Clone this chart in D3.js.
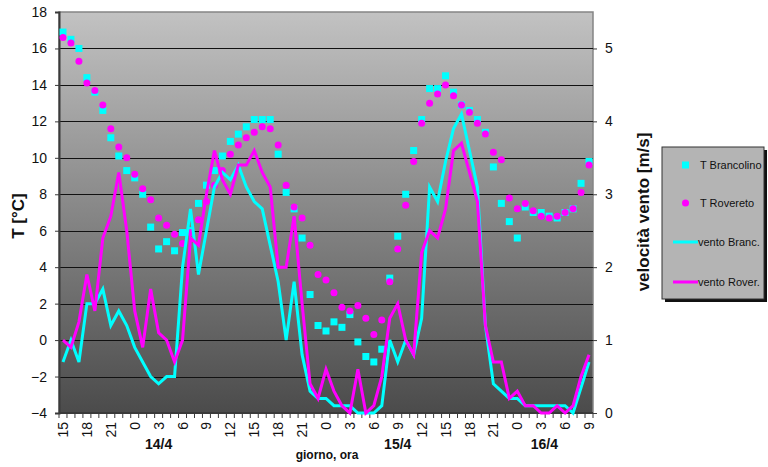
<!DOCTYPE html>
<html>
<meta charset="utf-8">
<style>
body { margin: 0; background: #fff; }
text { font-family: "Liberation Sans", Arial, sans-serif; fill: #111; }
</style>
<body>
<svg id="chart" width="768" height="467"></svg>
<script src="https://d3js.org/d3.v7.min.js"></script>
<script>

// hour of each reading (category axis)
var hours = [15,16,17,18,19,20,21,22,23,
    0,1,2,3,4,5,6,7,8,9,10,11,12,13,14,15,16,17,18,19,20,21,22,23,
    0,1,2,3,4,5,6,7,8,9,10,11,12,13,14,15,16,17,18,19,20,21,22,23,
    0,1,2,3,4,5,6,7,8,9];
var days = ["14/4", "15/4", "16/4"];
var dayAt = [12, 42, 60.4];   // category index under which the day label sits

var tBrancolino = [16.9,16.5,16.0,14.4,13.6,12.6,11.1,10.1,9.3,8.9,
    8.0,6.2,5.0,5.4,4.9,5.9,6.0,7.5,8.5,9.3,
    10.1,10.9,11.3,11.7,12.1,12.1,12.1,10.2,8.1,7.2,
    5.6,2.5,0.8,0.5,1.0,0.7,1.4,-0.1,-0.9,-1.2,
    -0.5,3.4,5.7,8.0,10.4,12.1,13.8,13.8,14.5,13.6,
    12.9,12.6,12.1,11.4,9.5,7.5,6.5,5.6,7.3,7.0,
    7.0,6.8,6.7,7.0,7.2,8.6,9.8];
var tRovereto = [16.6,16.3,15.3,14.1,13.7,12.9,11.6,10.6,10.0,9.1,
    8.3,7.7,6.7,6.3,5.8,5.3,5.9,6.6,7.6,8.5,
    9.3,10.2,10.7,11.1,11.4,11.7,11.6,10.7,8.5,7.3,
    6.7,5.2,3.6,3.3,2.6,1.8,1.6,1.9,1.2,0.3,
    1.1,3.2,5.0,7.4,9.8,11.9,13.0,13.5,14.0,13.4,
    12.9,12.5,11.9,11.3,10.3,9.9,7.8,7.2,7.5,7.1,
    6.8,6.7,6.8,7.0,7.2,8.1,9.6];
var ventoBranc = [0.7,1.0,0.7,1.5,1.5,1.7,1.2,1.4,1.2,0.9,
    0.7,0.5,0.4,0.5,0.5,2.0,2.8,1.9,2.5,3.1,
    3.3,3.2,3.4,3.1,2.9,2.8,2.3,1.8,1.0,1.8,
    0.8,0.3,0.2,0.2,0.1,0.1,0.1,0,0,0,
    0.1,1.0,0.7,1.0,0.8,1.3,3.1,2.9,3.45,3.9,
    4.1,3.6,3.1,1.2,0.4,0.3,0.2,0.2,0.1,0.1,
    0.1,0.1,0.1,0.1,0,0.35,0.7];
var ventoRover = [1.0,0.9,1.25,1.9,1.4,2.4,2.7,3.3,2.5,1.4,
    0.9,1.7,1.1,1.0,0.7,1.0,2.4,2.3,3.0,3.6,
    3.2,3.0,3.4,3.4,3.6,3.3,3.1,2.0,2.0,2.7,
    1.5,0.4,0.2,0.6,0.3,0.1,0,0.6,0,0.1,
    0.5,1.3,1.5,1.0,0.8,2.2,2.5,2.4,2.8,3.6,
    3.7,3.3,2.9,1.2,0.7,0.7,0.2,0.3,0.1,0.1,
    0,0,0.1,0,0.1,0.5,0.8];

var tTicks = [-4,-2,0,2,4,6,8,10,12,14,16,18];
var vTicks = [0,1,2,3,4,5];

var CYAN = "#00ffff", MAGENTA = "#ff00ff";

var svg = d3.select("#chart"),
    pLeft = 59, pRight = 593, pTop = 12, pBottom = 413;

var idx = d3.range(hours.length);
var x = d3.scaleBand().domain(idx).range([pLeft, pRight]).padding(0);
var cx = function(i) { return x(i) + x.bandwidth() / 2; };
var y = d3.scaleLinear().domain([-4, 18]).range([pBottom, pTop]);
var y2 = d3.scaleLinear().domain([0, 5.5]).range([pBottom, pTop]);

// background gradient of plot area
var grad = svg.append("defs").append("linearGradient")
    .attr("id", "bg").attr("x1", 0).attr("y1", 0).attr("x2", 0).attr("y2", 1);
grad.append("stop").attr("offset", "0%").attr("stop-color", "#c2c2c2");
grad.append("stop").attr("offset", "100%").attr("stop-color", "#4b4b4b");

svg.append("rect")
    .attr("x", pLeft).attr("y", pTop)
    .attr("width", pRight - pLeft).attr("height", pBottom - pTop)
    .attr("fill", "url(#bg)")
    .attr("stroke", "#858585").attr("stroke-width", 1.5);

// gridlines
svg.append("g").selectAll("line")
    .data(tTicks.filter(function(t) { return t > -4 && t < 18; }))
    .join("line")
    .attr("x1", pLeft).attr("x2", pRight)
    .attr("y1", function(d) { return Math.round(y(d)) + 0.5; })
    .attr("y2", function(d) { return Math.round(y(d)) + 0.5; })
    .attr("stroke", "#111").attr("stroke-width", 1.2);

// left axis
var yAxis = svg.append("g")
    .attr("transform", "translate(" + pLeft + ",0)")
    .call(d3.axisLeft(y).tickValues(tTicks).tickSize(4).tickPadding(8));
yAxis.select(".domain").attr("stroke", "#3a3a3a").attr("stroke-width", 2);
yAxis.selectAll(".tick line").attr("stroke", "#3a3a3a");
yAxis.selectAll("text").style("font-size", "14px")
    .style("font-family", "'Liberation Sans', Arial, sans-serif").attr("fill", "#111");

// right axis
var vAxis = svg.append("g")
    .attr("transform", "translate(" + pRight + ",0)")
    .call(d3.axisRight(y2).tickValues(vTicks).tickFormat(d3.format("d")).tickSize(4).tickPadding(8));
vAxis.select(".domain").remove();
vAxis.selectAll(".tick line").attr("stroke", "#3a3a3a");
vAxis.selectAll("text").style("font-size", "14px")
    .style("font-family", "'Liberation Sans', Arial, sans-serif").attr("fill", "#111");

// bottom axis: tick marks between categories
svg.append("line")
    .attr("x1", pLeft).attr("x2", pRight).attr("y1", pBottom).attr("y2", pBottom)
    .attr("stroke", "#3a3a3a").attr("stroke-width", 2);
svg.append("g").selectAll("line")
    .data(d3.range(hours.length + 1))
    .join("line")
    .attr("x1", function(i) { return i < hours.length ? x(i) : pRight; })
    .attr("x2", function(i) { return i < hours.length ? x(i) : pRight; })
    .attr("y1", pBottom).attr("y2", pBottom + 5)
    .attr("stroke", "#3a3a3a");

svg.append("g").selectAll("text")
    .data(idx.filter(function(i) { return i % 3 === 0; }))
    .join("text")
    .attr("transform", function(i) { return "translate(" + cx(i) + "," + (pBottom + 9) + ") rotate(-90)"; })
    .attr("text-anchor", "end")
    .attr("dy", "0.36em")
    .style("font-size", "14px")
    .text(function(i) { return hours[i]; });

svg.append("g").selectAll("text")
    .data(days)
    .join("text")
    .attr("x", function(d, k) { return cx(Math.floor(dayAt[k])) + (dayAt[k] % 1) * x.bandwidth(); })
    .attr("y", 449)
    .attr("text-anchor", "middle")
    .style("font-size", "14px").style("font-weight", "bold")
    .text(function(d) { return d; });

svg.append("text")
    .attr("x", 327).attr("y", 459)
    .attr("text-anchor", "middle")
    .style("font-size", "12px").style("font-weight", "bold")
    .text("giorno, ora");

// axis titles
svg.append("text")
    .attr("transform", "translate(24,216) rotate(-90)")
    .attr("text-anchor", "middle")
    .style("font-size", "17px").style("font-weight", "bold")
    .text("T [°C]");

svg.append("text")
    .attr("transform", "translate(649,212) rotate(-90)")
    .attr("text-anchor", "middle")
    .style("font-size", "17px").style("font-weight", "bold")
    .text("velocità vento [m/s]");

// series
var plot = svg.append("g");

plot.selectAll("rect.tb")
    .data(tBrancolino)
    .join("rect")
    .attr("class", "tb")
    .attr("x", function(d, i) { return cx(i) - 3.5; })
    .attr("y", function(d) { return y(d) - 3.5; })
    .attr("width", 7).attr("height", 7)
    .attr("fill", CYAN);

plot.selectAll("circle.tr")
    .data(tRovereto)
    .join("circle")
    .attr("class", "tr")
    .attr("cx", function(d, i) { return cx(i); })
    .attr("cy", function(d) { return y(d); })
    .attr("r", 3.5)
    .attr("fill", MAGENTA);

var windLine = d3.line()
    .x(function(d, i) { return cx(i); })
    .y(function(d) { return y2(d); });

plot.append("path")
    .datum(ventoBranc)
    .attr("d", windLine)
    .attr("fill", "none").attr("stroke", CYAN)
    .attr("stroke-width", 3).attr("stroke-linejoin", "miter");

plot.append("path")
    .datum(ventoRover)
    .attr("d", windLine)
    .attr("fill", "none").attr("stroke", MAGENTA)
    .attr("stroke-width", 3).attr("stroke-linejoin", "miter");

// legend
var lg = svg.append("g").attr("transform", "translate(662,147)");
lg.append("rect").attr("x", 3).attr("y", 3).attr("width", 102).attr("height", 152).attr("fill", "#111");
lg.append("rect").attr("x", 0).attr("y", 0).attr("width", 102).attr("height", 152)
    .attr("fill", "#b4b4b4").attr("stroke", "#333").attr("stroke-width", 1);

var items = [
    {name: "T Brancolino", kind: "square", color: CYAN},
    {name: "T Rovereto", kind: "circle", color: MAGENTA},
    {name: "vento Branc.", kind: "line", color: CYAN},
    {name: "vento Rover.", kind: "line", color: MAGENTA}
];
var itemY = [18, 56, 95, 135];
items.forEach(function(it, k) {
    var g = lg.append("g").attr("transform", "translate(0," + itemY[k] + ")");
    if (it.kind === "square") {
        g.append("rect").attr("x", 20).attr("y", -3.5).attr("width", 7).attr("height", 7).attr("fill", it.color);
    } else if (it.kind === "circle") {
        g.append("circle").attr("cx", 23.5).attr("cy", 0).attr("r", 3.5).attr("fill", it.color);
    } else {
        g.append("line").attr("x1", 11).attr("x2", 36).attr("y1", 0).attr("y2", 0)
            .attr("stroke", it.color).attr("stroke-width", 3);
    }
    g.append("text")
        .attr("x", it.kind === "line" ? 36 : 38)
        .attr("dy", "0.35em")
        .style("font-size", "11px")
        .text(it.name);
});

</script>
</body>
</html>
